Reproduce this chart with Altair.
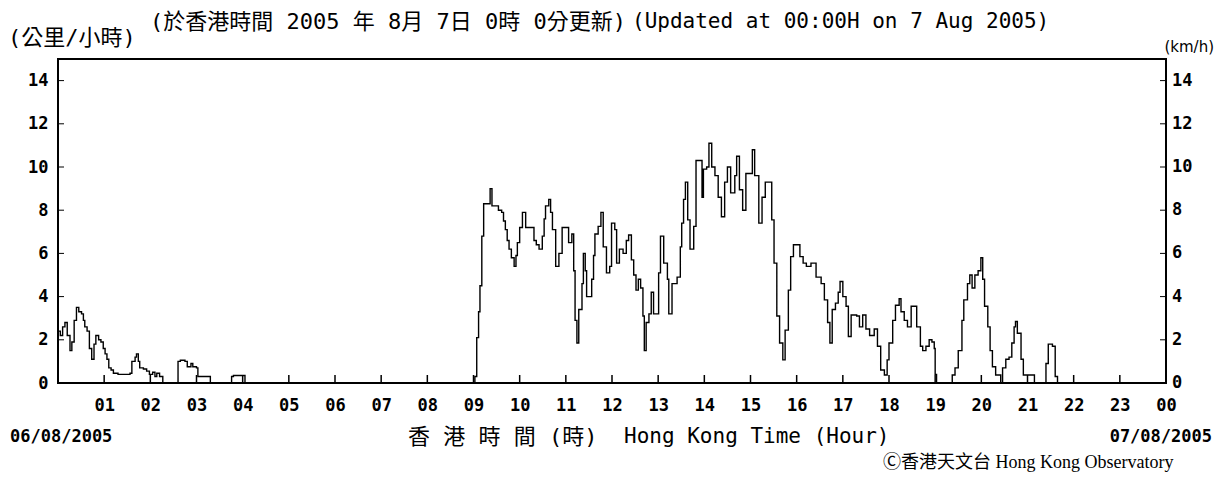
import altair as alt
import pandas as pd

# ---- data (hour of day, wind speed km/h) ----
hours = [
    0.00, 0.05, 0.10, 0.15, 0.20, 0.26, 0.30, 0.35, 0.40, 0.45, 0.51, 0.55, 0.58, 0.63, 0.68,
    0.73, 0.78, 0.82, 0.88, 0.93, 0.98, 1.02, 1.06, 1.10, 1.15, 1.20, 1.30, 1.45, 1.56, 1.60,
    1.67, 1.70, 1.74, 1.77, 1.85, 1.92, 1.98, 2.05, 2.10, 2.14, 2.20, 2.27, 2.60, 2.65, 2.75,
    2.80, 2.88, 2.92, 3.00, 3.03, 3.30, 3.76, 3.80, 4.05, 9.00, 9.03, 9.07, 9.11, 9.14, 9.18,
    9.22, 9.33, 9.36, 9.40, 9.47, 9.54, 9.61, 9.65, 9.69, 9.73, 9.77, 9.82, 9.88, 9.92, 9.95,
    10.00, 10.06, 10.13, 10.24, 10.31, 10.36, 10.42, 10.49, 10.53, 10.56, 10.63, 10.67, 10.71,
    10.78, 10.85, 10.92, 11.03, 11.06, 11.13, 11.17, 11.20, 11.24, 11.28, 11.35, 11.38, 11.42,
    11.45, 11.52, 11.56, 11.60, 11.63, 11.70, 11.76, 11.81, 11.88, 11.95, 11.99, 12.06, 12.10,
    12.16, 12.24, 12.31, 12.36, 12.42, 12.47, 12.52, 12.57, 12.62, 12.67, 12.70, 12.74, 12.80,
    12.85, 12.90, 12.98, 13.01, 13.05, 13.12, 13.20, 13.23, 13.30, 13.41, 13.48, 13.51, 13.55,
    13.59, 13.64, 13.69, 13.77, 13.82, 13.87, 13.95, 13.98, 14.05, 14.10, 14.16, 14.23, 14.30,
    14.37, 14.44, 14.50, 14.57, 14.66, 14.70, 14.76, 14.83, 14.90, 14.97, 15.04, 15.09, 15.18,
    15.25, 15.32, 15.39, 15.46, 15.51, 15.57, 15.63, 15.70, 15.75, 15.82, 15.87, 15.93, 16.00,
    16.07, 16.14, 16.21, 16.31, 16.42, 16.53, 16.60, 16.67, 16.72, 16.77, 16.84, 16.90, 16.94,
    17.00, 17.07, 17.12, 17.18, 17.30, 17.36, 17.43, 17.50, 17.58, 17.68, 17.75, 17.82, 17.90,
    17.96, 18.00, 18.08, 18.14, 18.22, 18.26, 18.33, 18.40, 18.48, 18.55, 18.60, 18.68, 18.73,
    18.80, 18.87, 18.93, 18.98, 19.00, 19.03, 19.37, 19.43, 19.50, 19.58, 19.62, 19.70, 19.75,
    19.80, 19.86, 19.93, 19.99, 20.03, 20.07, 20.14, 20.19, 20.24, 20.31, 20.39, 20.42, 20.46,
    20.53, 20.60, 20.66, 20.71, 20.74, 20.78, 20.86, 20.91, 21.10, 21.15, 21.40, 21.45, 21.54,
    21.60, 21.65, 24.00,
]
speeds = [
    2.4, 2.2, 2.6, 2.8, 2.2, 1.5, 1.9, 2.9, 3.5, 3.3, 3.2, 2.9, 2.6, 2.4, 1.6,
    1.1, 1.8, 2.2, 2.0, 1.9, 1.6, 1.35, 1.1, 0.7, 0.6, 0.45, 0.4, 0.4, 0.45, 1.0,
    1.2, 1.35, 1.0, 0.7, 0.65, 0.55, 0.4, 0.5, 0.3, 0.45, 0.3, 0.0, 1.0, 1.05, 1.0,
    0.75, 0.9, 0.75, 0.7, 0.3, 0.0, 0.3, 0.35, 0.0, 0.0, 0.3, 2.1, 3.3, 4.5, 6.8,
    8.3, 8.3, 9.0, 8.2, 8.2, 8.0, 7.9, 7.5, 7.1, 6.6, 6.2, 5.8, 5.4, 5.9, 6.5,
    7.2, 7.9, 7.2, 7.2, 6.6, 6.4, 6.2, 6.8, 7.6, 8.2, 8.5, 7.9, 7.1,
    5.4, 6.0, 7.2, 7.2, 6.5, 6.9, 5.2, 2.9, 1.85, 3.4, 4.6, 6.0, 5.2,
    4.0, 4.0, 4.8, 5.9, 6.9, 7.25, 7.9, 6.3, 5.1, 5.4, 7.4, 7.1, 5.55,
    6.2, 6.0, 6.6, 6.85, 5.7, 5.0, 4.3, 4.8, 4.4, 3.1, 1.5, 2.8, 3.2,
    4.2, 3.2, 3.2, 5.1, 6.8, 5.55, 4.8, 3.2, 4.6, 4.9, 6.3, 7.4, 8.5,
    9.3, 7.55, 6.2, 7.25, 10.3, 10.3, 8.6, 9.9, 10.0, 11.1, 10.0, 9.6, 8.6,
    7.7, 9.3, 10.0, 8.8, 9.6, 10.5, 8.95, 8.0, 9.7, 9.7, 10.8, 9.6, 7.4,
    8.6, 9.3, 9.3, 7.55, 5.55, 3.1, 1.85, 1.07, 2.45, 4.3, 5.85, 6.4, 6.4,
    5.85, 5.55, 5.4, 5.55, 4.9, 4.6, 3.85, 2.8, 1.85, 3.4, 3.7, 4.2, 4.7,
    4.0, 3.55, 2.15, 3.15, 3.1, 2.6, 3.15, 2.5, 2.2, 2.5, 1.7, 0.6, 0.37,
    1.07, 1.85, 2.9, 3.6, 3.9, 3.3, 2.9, 2.6, 3.55, 3.55, 2.6, 1.7, 1.5,
    1.7, 2.0, 1.9, 1.6, 0.4, 0.0, 0.37, 0.7, 1.5, 2.9, 3.85, 4.6, 5.0,
    4.4, 5.0, 5.2, 5.8, 4.8, 3.55, 2.6, 1.5, 0.75, 0.37, 0.37, 0.0, 0.7,
    1.1, 1.2, 1.85, 2.6, 2.85, 2.3, 1.1, 0.37, 0.37, 0.0, 0.9, 1.8, 1.7,
    0.3, 0.0, 0.0,
]
y_tick_values = [0, 2, 4, 6, 8, 10, 12, 14]
x_tick_values = list(range(1, 24))
x_label_values = list(range(1, 25))

title_zh = "(於香港時間 2005 年 8月 7日 0時 0分更新)"
title_en = "(Updated at 00:00H on 7 Aug 2005)"
unit_zh = "(公里/小時)"
unit_en = "(km/h)"
date_start = "06/08/2005"
date_end = "07/08/2005"
xtitle_zh = "香 港 時 間 (時)"
xtitle_en = "Hong Kong Time (Hour)"
copyright_txt = "Ⓒ香港天文台 Hong Kong Observatory"

W, H = 1108, 324
MONO = "DejaVu Sans Mono, Noto Sans CJK TC"
CJK = "DejaVu Sans Mono, Noto Sans CJK TC"

df = pd.DataFrame({"h": hours, "v": speeds})
yt = pd.DataFrame({"v": y_tick_values})
xt = pd.DataFrame({"h": x_tick_values})

xs = alt.Scale(domain=[0, 24], nice=False, zero=False)
ys = alt.Scale(domain=[0, 15], nice=False)

xaxis = alt.Axis(
    values=x_label_values, title=None, grid=False, domain=False, ticks=False, tickSize=0,
    labelExpr="datum.value == 24 ? '00' : (datum.value < 10 ? '0' + datum.value : '' + datum.value)",
    labelFont="DejaVu Sans Mono", labelFontSize=17, labelFontWeight="bold", labelColor="black",
    labelPadding=14, labelFlush=False, labelOverlap=False)
yaxis = alt.Axis(
    values=y_tick_values, title=None, grid=False, domain=False, ticks=False, tickSize=0,
    labelFont="DejaVu Sans Mono", labelFontSize=17, labelFontWeight="bold", labelColor="black",
    labelPadding=10, labelFlush=False, labelOverlap=False)

line = alt.Chart(df).mark_line(interpolate="step-after", color="black", strokeWidth=1.4).encode(
    x=alt.X("h:Q", scale=xs, axis=xaxis),
    y=alt.Y("v:Q", scale=ys, axis=yaxis),
)

left_ticks = alt.Chart(yt).mark_rule(color="black", strokeWidth=1).encode(
    y=alt.Y("v:Q", scale=ys, axis=yaxis), x=alt.value(0), x2=alt.value(6))
right_ticks = alt.Chart(yt).mark_rule(color="black", strokeWidth=1).encode(
    y=alt.Y("v:Q", scale=ys, axis=yaxis), x=alt.value(W - 6), x2=alt.value(W))
bottom_ticks = alt.Chart(xt).mark_rule(color="black", strokeWidth=1.5).encode(
    x=alt.X("h:Q", scale=xs, axis=xaxis), y=alt.value(H), y2=alt.value(H - 8))
right_labels = alt.Chart(yt).mark_text(
    align="left", baseline="middle", font="DejaVu Sans Mono", fontSize=17, fontWeight="bold",
    color="black").encode(
    y=alt.Y("v:Q", scale=ys, axis=yaxis), x=alt.value(W + 6), text=alt.Text("v:Q"))


def label(text, x, y, size, font, align="left", weight="normal"):
    return alt.Chart(pd.DataFrame({"t": [text]})).mark_text(
        x=x, y=y, align=align, baseline="middle", fontSize=size, font=font,
        fontWeight=weight, color="black").encode(text="t:N")


texts = [
    label(title_zh, 92, -37, 22, CJK),
    label(title_en, 574, -37, 21, MONO),
    label(unit_zh, -50, -21, 22, CJK),
    label(unit_en, 1156, -12, 15, "DejaVu Sans", align="right"),
    label(date_start, -48, 378, 17, "DejaVu Sans Mono", weight="bold"),
    label(date_end, 1154, 378, 17, "DejaVu Sans Mono", align="right", weight="bold"),
    label(xtitle_zh, 350, 378, 22, CJK),
    label(xtitle_en, 566, 378, 21, MONO),
    label(copyright_txt, 825, 404, 18, "Liberation Serif, DejaVu Serif, Noto Sans CJK TC"),
]

chart = alt.layer(line, left_ticks, right_ticks, bottom_ticks, right_labels, *texts).properties(
    width=W, height=H,
    autosize=alt.AutoSizeParams(type="none"),
    padding={"left": 50, "top": 51, "right": 50, "bottom": 91},
    background="white",
).configure_view(stroke="black", strokeWidth=2)

chart.save("out.html", embed_options={"renderer": "svg", "actions": False})
